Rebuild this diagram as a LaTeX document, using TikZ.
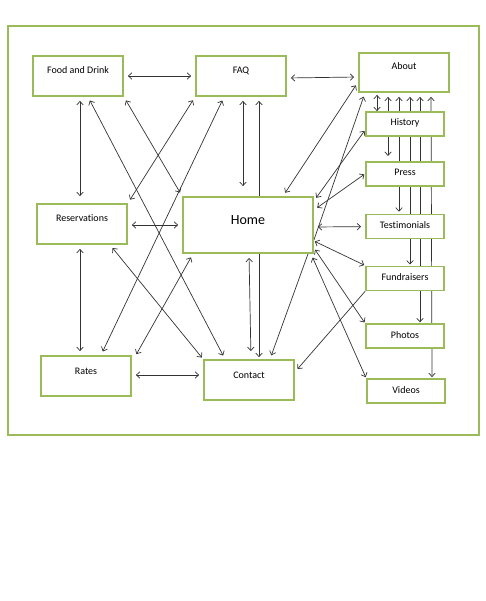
\documentclass[tikz,border=0pt]{standalone}
\usepackage{fontspec}
\setmainfont{Carlito}[Ligatures=NoCommon]
\usepackage{xcolor}
\usetikzlibrary{positioning,arrows.meta,backgrounds}
\definecolor{boxgreen}{HTML}{9BBB59}
\definecolor{linegray}{HTML}{333333}

\begin{document}
\begin{tikzpicture}[x=1pt, y=-1pt,
        page/.style={draw=boxgreen, line width=1.8pt, fill=white, inner sep=0pt, minimum width=90pt,
            text height=18pt, text depth=22pt, font=\fontsize{10}{12}\selectfont},
        subpage/.style={draw=boxgreen, line width=1.8pt, fill=white, inner sep=0pt, minimum width=78pt,
            minimum height=24pt, text height=6pt, text depth=2pt, font=\fontsize{10}{12}\selectfont},
        link/.style={draw=linegray, line width=0.7pt, shorten <=4pt, shorten >=4pt},
        >={Straight Barb[length=3.5pt,width=6.5pt]}
    ]
        \useasboundingbox (0,0) rectangle (486,601);
        \draw [boxgreen, line width=1.8pt] (8,26) rectangle (479,435);

        \node [page] (food) at (78,76) {Food and Drink};
        \node [page] (faq) at (241,76) {FAQ};
        \node [page, text height=17pt, text depth=22pt] (about) at (404,72.5) {About};
        \node [page] (reservations) at (82,224) {Reservations};
        \node [page, minimum width=130pt, text height=27.5pt, text depth=28.5pt,
            font=\fontsize{14}{16}\selectfont] (home) at (248,225) {Home};
        \node [page] (rates) at (86,376) {Rates};
        \node [page] (contact) at (249,380) {Contact};

        \node [subpage] (history) at (405,124) {History};
        \node [subpage, below=24pt of history] (press) {Press};
        \node [subpage, below=27pt of press] (testimonials) {Testimonials};
        \node [subpage, below=26pt of testimonials] (fundraisers) {Fundraisers};
        \node [subpage, below=32pt of fundraisers] (photos) {Photos};
        \node [subpage, below=29pt of photos, xshift=1pt] (videos) {Videos};

        \begin{scope}[on background layer]
        % top row
        \draw [link, <->] (food.east) -- (faq.west);
        \draw [link, <->] ([yshift=-2pt]faq.east) -- ([yshift=-4.5pt]about.west);

        % from food and drink
        \draw [link, <->, shorten >=7pt] ([xshift=2pt]food.south) -- ([xshift=-2pt]reservations.north);
        \draw [link, <->] ([xshift=10pt]food.south) -- ([xshift=-24pt]contact.north);
        \draw [link, <->] (food.south east) -- (home.north west);

        % from faq
        \draw [link, <->] (faq.south west) -- (reservations.north east);
        \draw [link, <->] ([xshift=-17pt]faq.south) -- ([xshift=15pt]rates.north);
        \draw [link, <->, shorten >=10pt] ([xshift=2pt]faq.south) -- ([xshift=-5pt]home.north);
        \draw [link, ->, shorten <=0pt] ([xshift=11pt]home.north) -- ([xshift=18pt]faq.south);

        % from about
        \draw [link, <->] ([yshift=-9.5pt]about.west) -- ([xshift=35pt]home.north);
        \draw [link, <-, shorten >=0pt] ([xshift=-39pt]about.south) -- ([yshift=-15pt]home.east);
        \draw [link, <->, shorten <=2pt, shorten >=0pt] ([xshift=-27pt]about.south) -- ([xshift=-28pt]history.north);
        \draw [link, <->, shorten >=5pt] ([xshift=-16pt]about.south) -- ([xshift=-17pt]press.north);
        \draw [link, <->, shorten >=2pt] ([xshift=-5pt]about.south) -- ([xshift=-6pt]testimonials.north);
        \draw [link, <->, shorten >=1pt] ([xshift=6pt]about.south) -- ([xshift=5pt]fundraisers.north);
        \draw [link, <->, shorten >=1pt] ([xshift=16pt]about.south) -- ([xshift=15pt]photos.north);
        \draw [link, <->, shorten >=1pt] ([xshift=27pt]about.south) -- ([xshift=26pt]videos.north);

        % home to the right column
        \draw [link, <->, shorten >=1pt] ([yshift=24pt]home.east) -- ([yshift=-6pt]history.west);
        \draw [link, <->, shorten >=1pt] ([yshift=15pt]home.east) -- (press.west);
        \draw [link, <->] ([yshift=-2pt]home.east) -- (testimonials.west);
        \draw [link, <->, shorten <=1pt, shorten >=1pt] ([yshift=-16pt]home.east) -- (fundraisers.north west);
        \draw [link, <->, shorten <=2pt, shorten >=1pt] ([yshift=-23pt]home.east) -- (photos.north west);
        \draw [link, <->, shorten >=1pt] ([xshift=63pt]home.south) -- (videos.north west);

        % to contact
        \draw [link, <->, shorten >=8pt] ([xshift=1pt]home.south) -- ([xshift=2pt]contact.north);
        \draw [link, ->, shorten <=0pt, shorten >=2pt] ([xshift=11pt]home.south) -- ([xshift=10pt]contact.north);
        \draw [link, ->, shorten <=0pt] ([xshift=60pt]home.south) -- ([xshift=21pt]contact.north);
        \draw [link, ->, shorten <=0pt] (fundraisers.south west) -- ([yshift=8pt]contact.east);

        % left side
        \draw [link, <->] ([yshift=-1pt]reservations.east) -- (home.west);
        \draw [link, <->] ([xshift=-2pt]reservations.south) -- ([xshift=-6pt]rates.north);
        \draw [link, <->, shorten >=2pt] ([xshift=28pt]reservations.south) -- (contact.north west);
        \draw [link, <->, shorten <=1pt] ([xshift=4pt]rates.north east) -- ([xshift=-55pt]home.south);
        \draw [link, <->] ([yshift=1pt]rates.east) -- ([yshift=5pt]contact.west);
        \end{scope}

    \end{tikzpicture}
\end{document}
